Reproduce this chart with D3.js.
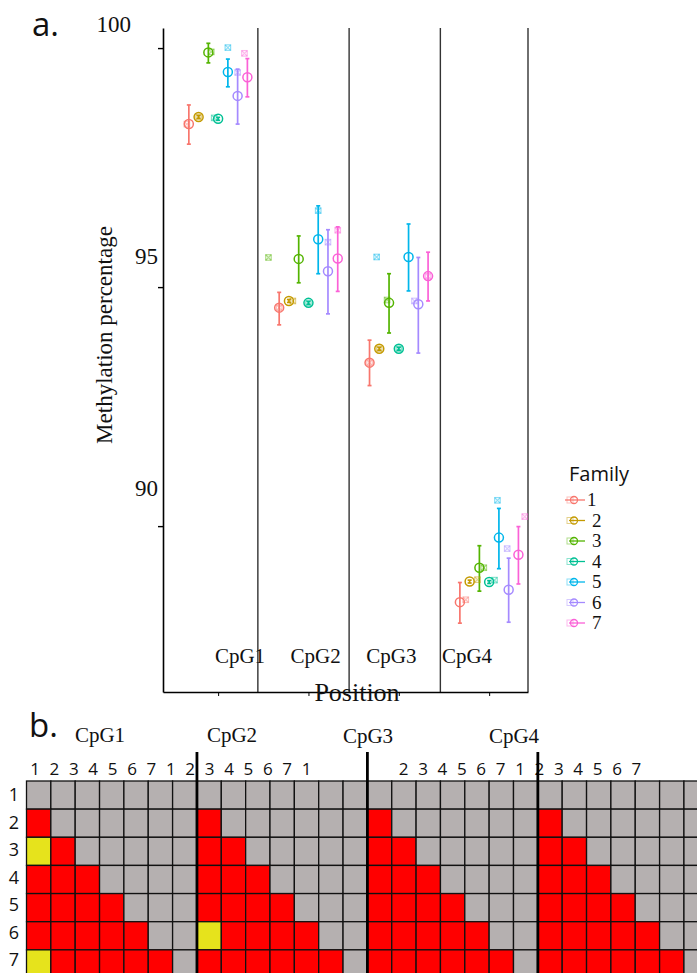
<!DOCTYPE html>
<html>
<head>
<meta charset="UTF-8">
<title>Methylation percentage</title>
<script src="https://d3js.org/d3.v7.min.js"></script>
<style>
  body { margin: 0; background: white; }
  svg { display: block; }
  .serif { font-family: "Liberation Serif", "Times New Roman", serif; fill: #111; }
  .sans { font-family: "Open Sans", "DejaVu Sans", sans-serif; fill: #111; }
</style>
</head>
<body>
<svg width="697" height="973"></svg>
<script>
// ---- panel a data ----
const families = [1, 2, 3, 4, 5, 6, 7];
const famColors = ["#F8766D", "#C49A00", "#53B400", "#00C094", "#00B6EB", "#A58AFF", "#FB61D7"];
const positions = ["CpG1", "CpG2", "CpG3", "CpG4"];
const yTicks = [90, 95, 100];

// rows = family 1..7, columns = CpG1..CpG4
const meanVals = [
  [98.41, 94.57, 93.42, 88.41],
  [98.56, 94.71, 93.71, 88.84],
  [99.91, 95.59, 94.67, 89.13],
  [98.52, 94.67, 93.71, 88.83],
  [99.50, 96.00, 95.63, 89.76],
  [99.00, 95.33, 94.64, 88.67],
  [99.39, 95.60, 95.23, 89.40]
];
const lowVals = [
  [97.99, 94.21, 92.94, 87.97],
  [98.53, 94.68, 93.68, 88.81],
  [99.69, 95.09, 94.04, 88.64],
  [98.49, 94.64, 93.68, 88.80],
  [99.19, 95.28, 94.92, 89.11],
  [98.41, 94.44, 93.62, 87.99],
  [98.98, 94.91, 94.71, 88.79]
];
const highVals = [
  [98.81, 94.89, 93.89, 88.82],
  [98.59, 94.74, 93.74, 88.87],
  [100.10, 96.07, 95.28, 89.59],
  [98.55, 94.70, 93.74, 88.86],
  [99.77, 96.70, 96.32, 90.37],
  [99.56, 96.20, 95.62, 89.33],
  [99.78, 96.26, 95.73, 89.99]
];
// second marker (crossed square) value and its dodge slot
const squareVals = [
  [98.41, 94.57, 93.42, 88.46],
  [98.56, 94.71, 93.71, 88.88],
  [99.92, 95.62, 94.73, 89.13],
  [98.54, 94.67, 93.71, 88.87],
  [100.01, 96.60, 95.63, 90.54],
  [99.49, 95.94, 94.71, 89.53],
  [99.89, 96.19, 95.23, 90.20]
];
const squareSlot = [
  [0.8, 1, 1, 1.6],
  [2, 2.4, 2, 2.8],
  [3.3, -0.1, 2.8, 3.45],
  [3.6, 4, 4, 4.55],
  [5, 5, 1.73, 4.85],
  [6, 6, 5.6, 5.85],
  [6.7, 7, 7, 7.65]
];
const dividers = [1.44, 2.45, 3.46, 4.43];

// ---- panel b data ----
const blockTitles = ["CpG1", "CpG2", "CpG3", "CpG4"];
const headerNums = ["1","2","3","4","5","6","7","1","2","3","4","5","6","7","1","","","","",
                    "2","3","4","5","6","7","1","2","3","4","5","6","7"];
const rowLabels = ["1", "2", "3", "4", "5", "6", "7"];
// 0 = grey, 1 = red, 2 = yellow
const gridBlocks = [
  ["0000000", "1000000", "2100000", "1110000", "1111000", "1111100", "2111110"],
  ["0000000", "1000000", "1100000", "1110000", "1111000", "2111100", "1111110"],
  ["0000000", "1000000", "1100000", "1110000", "1111000", "1111100", "1111110"],
  ["0000000", "1000000", "1100000", "1110000", "1111000", "1111100", "1111110"]
];
const cellColors = ["#B5B0B0", "#FF0000", "#E6E31C"];

const svg = d3.select("svg");

// ================= panel a =================
const xScale = d3.scaleLinear().domain([0.39, 4.43]).range([163, 528]);
const yScale = d3.scaleLinear().domain([86.53, 100.42]).range([692, 28]);
const slotScale = d3.scaleLinear().domain([1, 7]).range([-0.324, 0.324]);
const yLabelScale = d3.scaleLinear().domain([90, 100]).range([488, 24]);
const posLabelScale = d3.scalePoint().domain(positions).range([240, 467]);
const color = d3.scaleOrdinal().domain(families).range(famColors);

svg.append("text").attr("class", "sans")
  .attr("x", 32).attr("y", 36)
  .attr("font-size", 33)
  .text("a.");

// panel dividers
svg.append("g").selectAll("line")
  .data(dividers)
  .join("line")
  .attr("x1", d => xScale(d)).attr("x2", d => xScale(d))
  .attr("y1", yScale.range()[1]).attr("y2", yScale.range()[0])
  .attr("stroke", "#333").attr("stroke-width", 1.4);

const yAxis = svg.append("g")
  .attr("transform", "translate(" + xScale.range()[0] + ",0)")
  .call(d3.axisLeft(yScale).tickValues(yTicks).tickSize(5).tickSizeOuter(0).tickFormat(""));
yAxis.select(".domain").attr("stroke-width", 1.6);
yAxis.selectAll(".tick line").attr("stroke-width", 1.4);

svg.append("g").selectAll("text")
  .data(yTicks)
  .join("text")
  .attr("class", "serif")
  .attr("x", d => d === 100 ? 131 : 158)
  .attr("y", d => yLabelScale(d))
  .attr("dy", "0.35em")
  .attr("text-anchor", "end")
  .attr("font-size", 23)
  .text(d => d);

const xAxis = svg.append("g")
  .attr("transform", "translate(0," + yScale.range()[0] + ")")
  .call(d3.axisBottom(xScale).tickValues([1, 2, 3, 4]).tickSize(4).tickSizeOuter(0).tickFormat(""));
xAxis.select(".domain").attr("stroke-width", 1.6);

svg.append("g").selectAll("text")
  .data(positions)
  .join("text")
  .attr("class", "serif")
  .attr("x", d => posLabelScale(d))
  .attr("y", 663)
  .attr("text-anchor", "middle")
  .attr("font-size", 21)
  .text(d => d);

svg.append("text").attr("class", "serif")
  .attr("x", 357).attr("y", 701)
  .attr("text-anchor", "middle")
  .attr("font-size", 26)
  .text("Position");

svg.append("text").attr("class", "serif")
  .attr("transform", "translate(112,335) rotate(-90)")
  .attr("text-anchor", "middle")
  .attr("font-size", 23)
  .text("Methylation percentage");

// build point records
const points = [];
families.forEach((f, fi) => {
  positions.forEach((p, pi) => {
    points.push({
      fam: f, pos: pi + 1,
      mean: meanVals[fi][pi], lo: lowVals[fi][pi], hi: highVals[fi][pi],
      sq: squareVals[fi][pi], sqSlot: squareSlot[fi][pi]
    });
  });
});
const px = d => xScale(d.pos + slotScale(d.fam));

const marks = svg.append("g");
// error bars
const eb = marks.selectAll("g.eb").data(points).join("g").attr("class", "eb")
  .attr("stroke", d => color(d.fam)).attr("stroke-width", 1.7);
eb.append("line")
  .attr("x1", px).attr("x2", px)
  .attr("y1", d => yScale(d.lo)).attr("y2", d => yScale(d.hi));
eb.append("line")
  .attr("x1", d => px(d) - 2).attr("x2", d => px(d) + 2)
  .attr("y1", d => yScale(d.lo)).attr("y2", d => yScale(d.lo));
eb.append("line")
  .attr("x1", d => px(d) - 2).attr("x2", d => px(d) + 2)
  .attr("y1", d => yScale(d.hi)).attr("y2", d => yScale(d.hi));

// crossed squares
const sqSize = 5.5;
const sq = marks.selectAll("g.sq").data(points).join("g").attr("class", "sq")
  .attr("transform", d => "translate(" + xScale(d.pos + slotScale(d.sqSlot)) + "," + yScale(d.sq) + ")")
  .attr("stroke", d => color(d.fam)).attr("stroke-opacity", 0.45)
  .attr("fill", "none").attr("stroke-width", 1.2);
sq.append("rect").attr("x", -sqSize / 2).attr("y", -sqSize / 2).attr("width", sqSize).attr("height", sqSize);
sq.append("path").attr("d", "M" + (-sqSize / 2) + "," + (-sqSize / 2) + "L" + (sqSize / 2) + "," + (sqSize / 2) +
  "M" + (sqSize / 2) + "," + (-sqSize / 2) + "L" + (-sqSize / 2) + "," + (sqSize / 2));

// circles
marks.selectAll("circle").data(points).join("circle")
  .attr("cx", px).attr("cy", d => yScale(d.mean))
  .attr("r", 4.5)
  .attr("fill", "none")
  .attr("stroke", d => color(d.fam))
  .attr("stroke-width", 1.5);

// legend
const legend = svg.append("g");
legend.append("text").attr("class", "sans")
  .attr("x", 569).attr("y", 481)
  .attr("font-size", 20)
  .text("Family");
const legY = d3.scalePoint().domain(families).range([500, 623]);
const li = legend.selectAll("g.item").data(families).join("g").attr("class", "item")
  .attr("transform", d => "translate(0," + legY(d) + ")");
li.append("line").attr("x1", d => d === 1 ? 565 : 569).attr("x2", 585).attr("y1", 0).attr("y2", 0)
  .attr("stroke", d => color(d)).attr("stroke-width", 1.3);
li.append("rect").attr("x", 567).attr("y", -3).attr("width", 6).attr("height", 6)
  .attr("fill", "none").attr("stroke", d => color(d)).attr("stroke-opacity", 0.45);
li.append("circle").attr("cx", 574).attr("cy", 0).attr("r", 3.5)
  .attr("fill", "none").attr("stroke", d => color(d)).attr("stroke-width", 1.3);
li.append("text").attr("class", "serif")
  .attr("x", d => d === 1 ? 587 : 592).attr("y", 6)
  .attr("font-size", 19)
  .text(d => d);

// ================= panel b =================
svg.append("text").attr("class", "sans")
  .attr("x", 29).attr("y", 737)
  .attr("font-size", 33)
  .text("b.");

const colScale = d3.scaleLinear().domain([0, 28]).range([26.5, 708.3]);
const rowScale = d3.scaleBand().domain(rowLabels).range([781, 978]);
const rowLabelScale = d3.scalePoint().domain(rowLabels).range([795, 960]);
const numScale = d3.scaleLinear().domain([0, 31]).range([35, 636.4]);
const titleScale = d3.scaleOrdinal().domain(blockTitles).range([100, 232, 368, 514]);

svg.append("g").selectAll("text")
  .data(blockTitles)
  .join("text")
  .attr("class", "serif")
  .attr("x", d => titleScale(d))
  .attr("y", (d, i) => 742 + (i > 1 ? 1 : 0))
  .attr("text-anchor", "middle")
  .attr("font-size", 21)
  .text(d => d);

svg.append("g").selectAll("text")
  .data(headerNums)
  .join("text")
  .attr("class", "sans")
  .attr("x", (d, i) => numScale(i))
  .attr("y", 775)
  .attr("text-anchor", "middle")
  .attr("font-size", 17)
  .text(d => d);

svg.append("g").selectAll("text")
  .data(rowLabels)
  .join("text")
  .attr("class", "sans")
  .attr("x", 14)
  .attr("y", d => rowLabelScale(d))
  .attr("dy", "0.35em")
  .attr("text-anchor", "middle")
  .attr("font-size", 18)
  .text(d => d);

const cells = [];
gridBlocks.forEach((block, bi) => {
  block.forEach((row, ri) => {
    row.split("").forEach((c, ci) => {
      cells.push({ col: bi * 7 + ci, row: rowLabels[ri], v: +c });
    });
  });
});

svg.append("g").selectAll("rect")
  .data(cells)
  .join("rect")
  .attr("x", d => colScale(d.col))
  .attr("y", d => rowScale(d.row))
  .attr("width", colScale(1) - colScale(0))
  .attr("height", rowScale.bandwidth())
  .attr("fill", d => cellColors[d.v])
  .attr("stroke", "#111")
  .attr("stroke-width", 1.3);

svg.append("g").selectAll("line")
  .data([7, 14, 21])
  .join("line")
  .attr("x1", d => colScale(d)).attr("x2", d => colScale(d))
  .attr("y1", 752).attr("y2", 973)
  .attr("stroke", "#000").attr("stroke-width", 2.8);
</script>
</body>
</html>
